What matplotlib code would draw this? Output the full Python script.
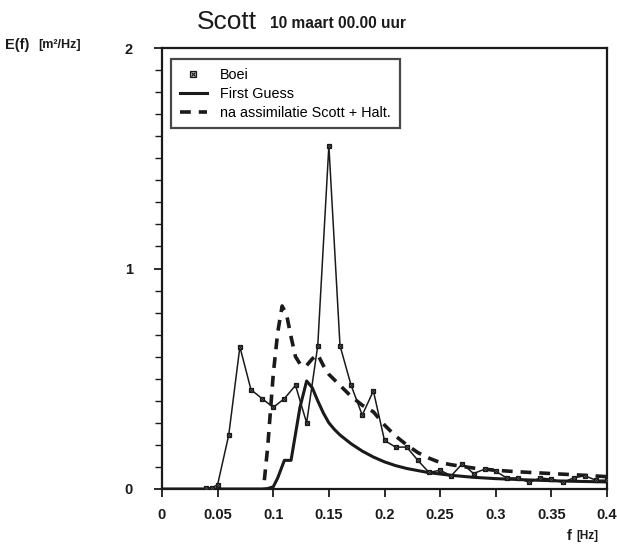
import matplotlib
matplotlib.use("Agg")
import matplotlib.pyplot as plt
from matplotlib.lines import Line2D
from matplotlib.ticker import MultipleLocator, FixedLocator

plt.rcParams["font.family"] = ["Liberation Sans", "DejaVu Sans"]

# Buoy measurements (Boei)
boei_f = [0.04, 0.045, 0.05, 0.06, 0.07, 0.08, 0.09, 0.10, 0.11, 0.12, 0.13,
          0.14, 0.15, 0.16, 0.17, 0.18, 0.19, 0.20, 0.21, 0.22, 0.23, 0.24,
          0.25, 0.26, 0.27, 0.28, 0.29, 0.30, 0.31, 0.32, 0.33, 0.34, 0.35,
          0.36, 0.37, 0.38, 0.39, 0.40]
boei_e = [0.005, 0.005, 0.02, 0.245, 0.645, 0.45, 0.41, 0.37, 0.41, 0.47, 0.30,
          0.65, 1.557, 0.65, 0.47, 0.335, 0.445, 0.22, 0.19, 0.19, 0.13, 0.075,
          0.085, 0.06, 0.115, 0.07, 0.09, 0.08, 0.05, 0.05, 0.03, 0.05, 0.045,
          0.03, 0.05, 0.06, 0.04, 0.04]

# First guess model spectrum
fg_f = [0.0, 0.09, 0.095, 0.10, 0.104, 0.11, 0.116, 0.124, 0.13, 0.135, 0.14,
        0.145, 0.15, 0.155, 0.16, 0.17, 0.18, 0.19, 0.20, 0.21, 0.22, 0.24,
        0.26, 0.28, 0.30, 0.33, 0.36, 0.40]
fg_e = [0.0, 0.0, 0.002, 0.01, 0.05, 0.13, 0.13, 0.37, 0.49, 0.46, 0.40,
        0.345, 0.30, 0.27, 0.245, 0.205, 0.172, 0.145, 0.123, 0.106, 0.093, 0.074,
        0.062, 0.053, 0.047, 0.041, 0.036, 0.032]

# Spectrum after assimilation (Scott + Halt.)
na_f = [0.092, 0.095, 0.10, 0.104, 0.108, 0.112, 0.116, 0.12, 0.125, 0.13,
        0.135, 0.14, 0.145, 0.15, 0.16, 0.17, 0.18, 0.19, 0.20, 0.21, 0.22,
        0.23, 0.24, 0.25, 0.26, 0.28, 0.30, 0.32, 0.35, 0.38, 0.40]
na_e = [0.04, 0.19, 0.52, 0.71, 0.83, 0.79, 0.69, 0.60, 0.56, 0.56,
        0.59, 0.61, 0.56, 0.52, 0.47, 0.42, 0.38, 0.35, 0.29, 0.24, 0.20,
        0.165, 0.14, 0.12, 0.11, 0.095, 0.085, 0.078, 0.07, 0.062, 0.056]

x_ticks = [0, 0.05, 0.1, 0.15, 0.2, 0.25, 0.3, 0.35, 0.4]
x_tick_labels = ["0", "0.05", "0.1", "0.15", "0.2", "0.25", "0.3", "0.35", "0.4"]
y_ticks = [0, 1, 2]
y_tick_labels = ["0", "1", "2"]

W, H = 617, 556
fig = plt.figure(figsize=(W / 100, H / 100), dpi=100)
ax = fig.add_axes([162 / W, 1 - 489 / H, (607 - 162) / W, (489 - 48) / H])

ink = "#1a1a1a"
ax.plot(boei_f, boei_e, color=ink, lw=1.1, zorder=3)
ax.plot(boei_f, boei_e, ls="none", marker="s", ms=3.3, mfc="#bbbbbb",
        mec=ink, mew=0.9, zorder=4)
ax.plot(boei_f, boei_e, ls="none", marker="x", ms=2.8, mec=ink, mew=0.8,
        zorder=5)
ax.plot(fg_f, fg_e, color=ink, lw=2.2, zorder=2)
ax.plot(na_f, na_e, color=ink, lw=2.6, ls=(0, (3.0, 2.2)), zorder=2)

ax.set_xlim(0, 0.4)
ax.set_ylim(0, 2)
ax.xaxis.set_major_locator(FixedLocator(x_ticks))
ax.set_xticklabels(x_tick_labels)
ax.yaxis.set_major_locator(FixedLocator(y_ticks))
ax.set_yticklabels(y_tick_labels)
ax.yaxis.set_minor_locator(MultipleLocator(0.1))

for s in ax.spines.values():
    s.set_linewidth(1.6)
    s.set_color(ink)
ax.tick_params(axis="both", which="major", direction="out", length=6,
               width=1.3, color=ink, labelsize=10.5, labelcolor=ink)
ax.tick_params(axis="x", pad=8)
ax.tick_params(axis="y", pad=15)
ax.tick_params(axis="y", which="minor", direction="out", length=5,
               width=1.0, color=ink)
for lbl in ax.get_xticklabels() + ax.get_yticklabels():
    lbl.set_fontweight("bold")

# Legend
h_boei = (Line2D([], [], ls="none", marker="s", ms=4, mfc="#bbbbbb", mec=ink, mew=0.9),
          Line2D([], [], ls="none", marker="x", ms=3.2, mec=ink, mew=0.8))
h_fg = Line2D([], [], color=ink, lw=2.2)
h_na = Line2D([], [], color=ink, lw=2.6, ls=(0, (3.0, 2.2)))
leg = ax.legend([h_boei, h_fg, h_na],
                ["Boei", "First Guess", "na assimilatie Scott + Halt."],
                loc="upper left", bbox_to_anchor=((171 - 162) / (607 - 162), 1 - (59 - 48) / (489 - 48)),
                borderaxespad=0, fontsize=10.4, handlelength=1.9, handletextpad=0.9,
                labelspacing=0.35, borderpad=0.6, frameon=True, fancybox=False)
leg.get_frame().set_edgecolor(ink)
leg.get_frame().set_linewidth(1.6)

# Title and axis labels
fig.text(197 / W, 1 - 22 / H, "Scott", fontsize=19, color=ink, va="center", ha="left")
fig.text(270 / W, 1 - 23 / H, "10 maart 00.00 uur", fontsize=11.2, fontweight="bold",
         color=ink, va="center", ha="left")
fig.text(5 / W, 1 - 45 / H, "E(f)", fontsize=10.5, fontweight="bold", color=ink,
         va="center", ha="left")
fig.text(38 / W, 1 - 45 / H, "[m²/Hz]", fontsize=9, fontweight="bold", color=ink,
         va="center", ha="left")
fig.text(567 / W, 1 - 536 / H, "f", fontsize=10.5, fontweight="bold", color=ink,
         va="center", ha="left")
fig.text(576 / W, 1 - 536 / H, "[Hz]", fontsize=8.5, fontweight="bold", color=ink,
         va="center", ha="left")

fig.savefig("out.png", dpi=100, facecolor="white")
